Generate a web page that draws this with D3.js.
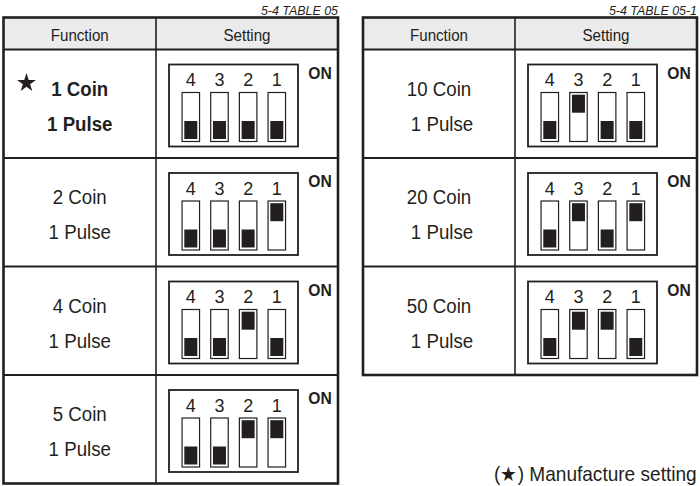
<!DOCTYPE html>
<html><head><meta charset="utf-8">
<script src="https://cdn.jsdelivr.net/npm/d3@7"></script>
<style>
html,body{margin:0;padding:0;background:#fff;}
svg{display:block;}
text{font-family:"Liberation Sans",Arial,Helvetica,sans-serif;fill:#231f20;}
</style></head>
<body>
<script>
// ---- data ----
const leftTitle = "5-4 TABLE 05";
const rightTitle = "5-4 TABLE 05-1";
const headers = ["Function", "Setting"];
const leftCoins = ["1 Coin", "2 Coin", "4 Coin", "5 Coin"];
const rightCoins = ["10 Coin", "20 Coin", "50 Coin"];
const leftPulses = ["1 Pulse", "1 Pulse", "1 Pulse", "1 Pulse"];
const rightPulses = ["1 Pulse", "1 Pulse", "1 Pulse"];
const switchLabels = [4, 3, 2, 1];
// switch state in the order 4,3,2,1 (1 = ON)
const leftSettings = [[0,0,0,0],[0,0,0,1],[0,0,1,0],[0,0,1,1]];
const rightSettings = [[0,1,0,0],[0,1,0,1],[0,1,1,0]];
const leftDefault = [true, false, false, false];
const rightDefault = [false, false, false];
const onLabel = "ON";
const noteText = "(★) Manufacture setting";

const W = 700, H = 486;
const ink = "#231f20";
const svg = d3.select("body").append("svg").attr("width", W).attr("height", H);

const SX = 0.89; // horizontal condense of the typeface

function txt(g, x, y, s, size, opts = {}) {
  return g.append("text")
    .attr("transform", `translate(${x},${y}) scale(${opts.sx ?? SX},1)`)
    .attr("text-anchor", opts.anchor || "middle")
    .attr("font-size", size)
    .attr("font-weight", opts.bold ? "bold" : "normal")
    .attr("font-style", opts.italic ? "italic" : "normal")
    .text(s);
}

function drawTable(cfg) {
  const g = svg.append("g");
  const { x0, x1, xDiv, coins, pulses, settings, defaults, title } = cfg;
  const headTop = 17.5, headBot = 49.5;
  const rowH = 108.5;
  const y = d3.scaleBand().domain(d3.range(coins.length))
    .range([headBot, headBot + rowH * coins.length]);
  const bottom = headBot + rowH * coins.length;

  // title
  txt(g, x1, 14.5, title, 13.5, { anchor: "end", italic: true, sx: 0.92 });

  // header fill
  g.append("rect").attr("x", x0).attr("y", headTop).attr("width", x1 - x0)
    .attr("height", headBot - headTop).attr("fill", "#ebebeb");

  // row lines
  coins.forEach((c, i) => {
    if (i > 0) g.append("line").attr("x1", x0).attr("x2", x1)
      .attr("y1", y(i)).attr("y2", y(i)).attr("stroke", ink).attr("stroke-width", 2);
  });
  g.append("line").attr("x1", x0).attr("x2", x1).attr("y1", headBot).attr("y2", headBot)
    .attr("stroke", ink).attr("stroke-width", 2);
  g.append("line").attr("x1", xDiv).attr("x2", xDiv).attr("y1", headTop).attr("y2", bottom)
    .attr("stroke", ink).attr("stroke-width", 1.6);
  // outer border
  g.append("rect").attr("x", x0).attr("y", headTop).attr("width", x1 - x0)
    .attr("height", bottom - headTop).attr("fill", "none")
    .attr("stroke", ink).attr("stroke-width", 2.6);

  // headers
  txt(g, (x0 + xDiv) / 2, 40.5, headers[0], 17);
  txt(g, (xDiv + x1) / 2, 40.5, headers[1], 17);

  coins.forEach((c, i) => {
    const top = y(i);
    const fx = (x0 + xDiv) / 2;
    const bold = defaults[i];
    txt(g, fx, top + 46, c, 21, { bold });
    txt(g, fx + cfg.pulseShift, top + 81, pulses[i], 21, { bold });
    if (bold) {
      g.append("path").attr("d", d3.symbol(d3.symbolStar, 110)())
        .attr("transform", `translate(${x0 + 23},${top + 33.5})`).attr("fill", ink);
    }
    // DIP switch
    const bx = xDiv + 13, by = top + 15, bw = 129, bh = 82;
    g.append("rect").attr("x", bx).attr("y", by).attr("width", bw).attr("height", bh)
      .attr("fill", "none").attr("stroke", ink).attr("stroke-width", 1.8);
    txt(g, bx + bw + 22, top + 29, onLabel, 16.5, { bold: true, sx: 0.95 });
    const sx = d3.scalePoint().domain(switchLabels).range([bx + 21.8, bx + 107.8]);
    const sw = 17.5, sTop = by + 28, sH = 49, kH = 18, kW = 13;
    switchLabels.forEach((lab, j) => {
      const cx = sx(lab);
      txt(g, cx, by + 21.5, String(lab), 18, { sx: 1 });
      g.append("rect").attr("x", cx - sw / 2).attr("y", sTop).attr("width", sw)
        .attr("height", sH).attr("fill", "#fff").attr("stroke", ink).attr("stroke-width", 1.2);
      const on = settings[i][j] === 1;
      const ky = on ? sTop + 2.2 : sTop + sH - 2.5 - kH;
      g.append("rect").attr("x", cx - kW / 2).attr("y", ky).attr("width", kW)
        .attr("height", kH).attr("fill", ink);
    });
  });
}

drawTable({ x0: 3.5, x1: 338, xDiv: 156, coins: leftCoins, pulses: leftPulses,
  settings: leftSettings, defaults: leftDefault, title: leftTitle, pulseShift: 0 });
drawTable({ x0: 363, x1: 697, xDiv: 515, coins: rightCoins, pulses: rightPulses,
  settings: rightSettings, defaults: rightDefault, title: rightTitle, pulseShift: 3 });

// note
txt(svg, 494, 481, noteText, 20.5, { anchor: "start", sx: 0.93 });
</script>
</body></html>
